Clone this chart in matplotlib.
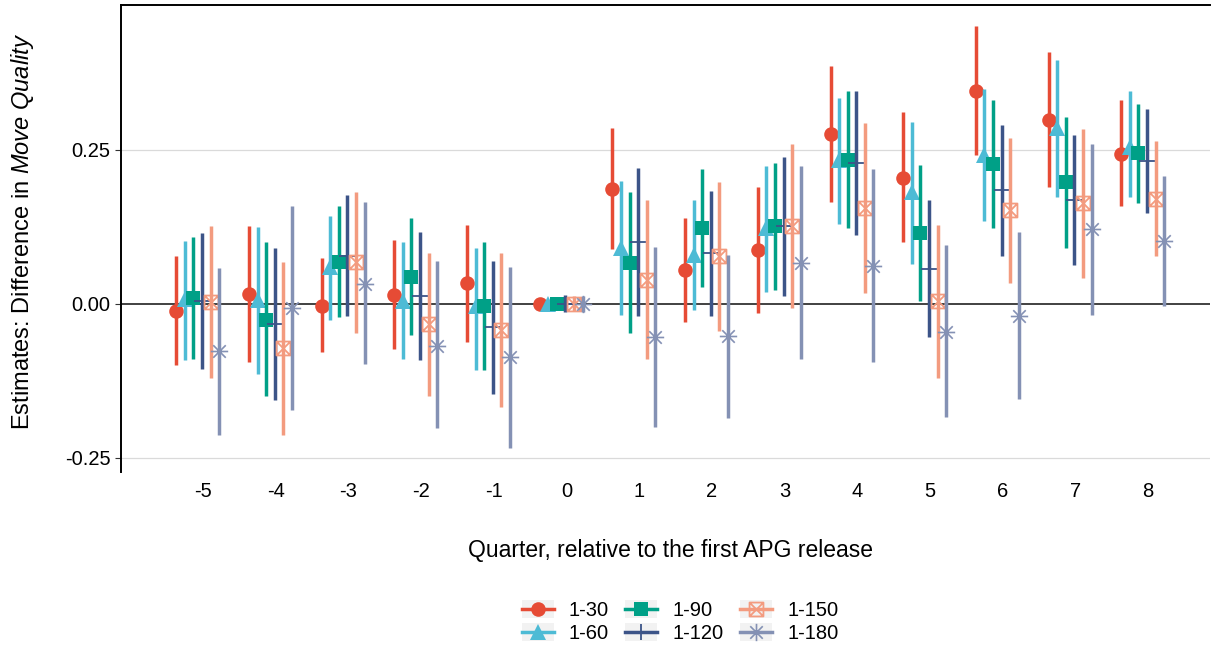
import matplotlib
matplotlib.use('Agg')
import matplotlib.pyplot as plt
from matplotlib.legend_handler import HandlerLine2D
from matplotlib.lines import Line2D
from matplotlib.patches import Rectangle
from matplotlib.path import Path

plt.rcParams['font.family'] = ['Liberation Sans', 'DejaVu Sans']
plt.rcParams['mathtext.fontset'] = 'custom'
plt.rcParams['mathtext.rm'] = 'Liberation Sans'
plt.rcParams['mathtext.it'] = 'Liberation Sans:italic'

quarters = [-5, -4, -3, -2, -1, 0, 1, 2, 3, 4, 5, 6, 7, 8]
windows = ['1-30', '1-60', '1-90', '1-120', '1-150', '1-180']
colors = ['#E64B35', '#4DBBD5', '#00A087', '#3C5488', '#F39B7F', '#8491B4']

est_30 = [-0.012, 0.016, -0.003, 0.015, 0.033, 0.0, 0.187, 0.055, 0.088, 0.276, 0.205, 0.346, 0.299, 0.243]
lo_30 = [-0.100, -0.095, -0.079, -0.074, -0.062, 0.0, 0.089, -0.030, -0.015, 0.166, 0.100, 0.241, 0.190, 0.158]
hi_30 = [0.078, 0.127, 0.074, 0.104, 0.128, 0.0, 0.285, 0.139, 0.189, 0.386, 0.311, 0.451, 0.408, 0.330]

est_60 = [0.008, 0.006, 0.060, 0.005, -0.003, 0.0, 0.091, 0.080, 0.123, 0.233, 0.181, 0.242, 0.285, 0.255]
lo_60 = [-0.091, -0.114, -0.027, -0.090, -0.108, 0.0, -0.018, -0.010, 0.019, 0.129, 0.064, 0.135, 0.174, 0.173]
hi_60 = [0.102, 0.125, 0.143, 0.100, 0.091, 0.0, 0.199, 0.169, 0.224, 0.334, 0.295, 0.349, 0.395, 0.346]

est_90 = [0.009, -0.026, 0.068, 0.043, -0.003, 0.0, 0.066, 0.123, 0.127, 0.234, 0.115, 0.227, 0.198, 0.245]
lo_90 = [-0.090, -0.150, -0.021, -0.051, -0.107, 0.0, -0.048, 0.027, 0.023, 0.123, 0.004, 0.123, 0.090, 0.164]
hi_90 = [0.109, 0.100, 0.158, 0.139, 0.100, 0.0, 0.181, 0.219, 0.228, 0.346, 0.225, 0.330, 0.304, 0.325]

est_120 = [0.004, -0.033, 0.078, 0.012, -0.037, 0.0, 0.101, 0.082, 0.127, 0.228, 0.057, 0.185, 0.169, 0.231]
lo_120 = [-0.106, -0.156, -0.019, -0.091, -0.146, -0.014, -0.019, -0.019, 0.013, 0.112, -0.054, 0.078, 0.063, 0.147]
hi_120 = [0.115, 0.090, 0.176, 0.116, 0.070, 0.014, 0.220, 0.183, 0.238, 0.345, 0.169, 0.291, 0.274, 0.316]

est_150 = [0.003, -0.072, 0.068, -0.033, -0.042, 0.0, 0.039, 0.077, 0.127, 0.156, 0.004, 0.152, 0.163, 0.170]
lo_150 = [-0.120, -0.213, -0.048, -0.149, -0.168, -0.012, -0.089, -0.044, -0.007, 0.017, -0.121, 0.034, 0.042, 0.077]
hi_150 = [0.127, 0.068, 0.181, 0.083, 0.083, 0.012, 0.168, 0.197, 0.259, 0.294, 0.128, 0.269, 0.284, 0.265]

est_180 = [-0.077, -0.007, 0.032, -0.068, -0.087, 0.0, -0.054, -0.053, 0.067, 0.061, -0.045, -0.019, 0.122, 0.102]
lo_180 = [-0.213, -0.173, -0.098, -0.202, -0.234, -0.013, -0.200, -0.185, -0.090, -0.095, -0.184, -0.155, -0.018, -0.003]
hi_180 = [0.058, 0.159, 0.165, 0.070, 0.059, 0.013, 0.093, 0.080, 0.224, 0.218, 0.095, 0.117, 0.259, 0.207]

estimates = [est_30, est_60, est_90, est_120, est_150, est_180]
lowers = [lo_30, lo_60, lo_90, lo_120, lo_150, lo_180]
uppers = [hi_30, hi_60, hi_90, hi_120, hi_150, hi_180]

# square with a cross inside, and an eight-armed asterisk
box_x = Path([(-1, -1), (1, -1), (1, 1), (-1, 1), (-1, -1), (-1, -1), (1, 1), (-1, 1), (1, -1)],
             [Path.MOVETO, Path.LINETO, Path.LINETO, Path.LINETO, Path.CLOSEPOLY,
              Path.MOVETO, Path.LINETO, Path.MOVETO, Path.LINETO])
d = 0.72
asterisk = Path([(0, -1), (0, 1), (-1, 0), (1, 0), (-d, -d), (d, d), (-d, d), (d, -d)],
                [Path.MOVETO, Path.LINETO] * 4)

marker_styles = [
    dict(marker='o', markersize=10.5, markeredgewidth=0),
    dict(marker='^', markersize=11, markeredgewidth=0),
    dict(marker='s', markersize=9.5, markeredgewidth=0),
    dict(marker='+', markersize=11, markeredgewidth=1.3),
    dict(marker=box_x, markersize=10, markeredgewidth=1.3, markerfacecolor='none'),
    dict(marker=asterisk, markersize=12.5, markeredgewidth=1.2, markerfacecolor='none'),
]

fig = plt.figure(figsize=(12.15, 6.48), dpi=100)
ax = fig.add_axes([121 / 1215, 1 - 472 / 648, (1210 - 121) / 1215, (472 - 5) / 648])

ax.axhline(0, color='#333333', lw=1.3, zorder=1)
for yv in (0.25, -0.25):
    ax.axhline(yv, color='#DADADA', lw=0.9, zorder=0)

for i in range(6):
    offset = -0.075 + (i - 2.5) * 0.118
    xs = [q + offset for q in quarters]
    ax.vlines(xs, lowers[i], uppers[i], color=colors[i], lw=2.5, zorder=2 + i)
    ax.plot(xs, estimates[i], ls='none', color=colors[i], zorder=2.5 + i, **marker_styles[i])

ax.set_xlim(-6.13, 8.85)
ax.set_ylim(-0.273, 0.485)
ax.set_xticks(quarters)
ax.set_xticklabels([str(q) for q in quarters])
ax.set_yticks([-0.25, 0.0, 0.25])
ax.set_yticklabels(['-0.25', '0.00', '0.25'])
ax.tick_params(axis='both', labelsize=14.5, colors='#333333', labelcolor='black', length=4, width=0.8)
ax.tick_params(axis='x', length=0, pad=7)

for side in ('left', 'top'):
    ax.spines[side].set_color('black')
    ax.spines[side].set_linewidth(1.4)
for side in ('right', 'bottom'):
    ax.spines[side].set_visible(False)

ax.set_ylabel(r'Estimates: Difference in $\it{Move\ Quality}$', fontsize=17)
ax.yaxis.set_label_coords((36 - 121) / 1089, 0.515)
fig.text(670 / 1215, 1 - 550 / 648, 'Quarter, relative to the first APG release',
         ha='center', va='center', fontsize=16.5)


class KeyHandler(HandlerLine2D):
    # grey key background behind each legend entry
    def create_artists(self, legend, orig_handle, xdescent, ydescent, width, height, fontsize, trans):
        bg = Rectangle((-xdescent, -ydescent - 0.12 * height), width, height * 1.24,
                       facecolor='#F2F2F2', edgecolor='none', transform=trans)
        arts = super().create_artists(legend, orig_handle, xdescent, ydescent, width, height, fontsize, trans)
        return [bg] + list(arts)


handles = [Line2D([], [], color=colors[i], lw=2.5, **marker_styles[i]) for i in range(6)]
fig.legend(handles, windows, ncol=3, loc='center', bbox_to_anchor=(680 / 1215, 1 - 622 / 648),
           frameon=False, fontsize=14.5, handlelength=1.6, handletextpad=0.75, columnspacing=0.8,
           labelspacing=0.2, handler_map={Line2D: KeyHandler()})

fig.savefig('out.png', dpi=100)
